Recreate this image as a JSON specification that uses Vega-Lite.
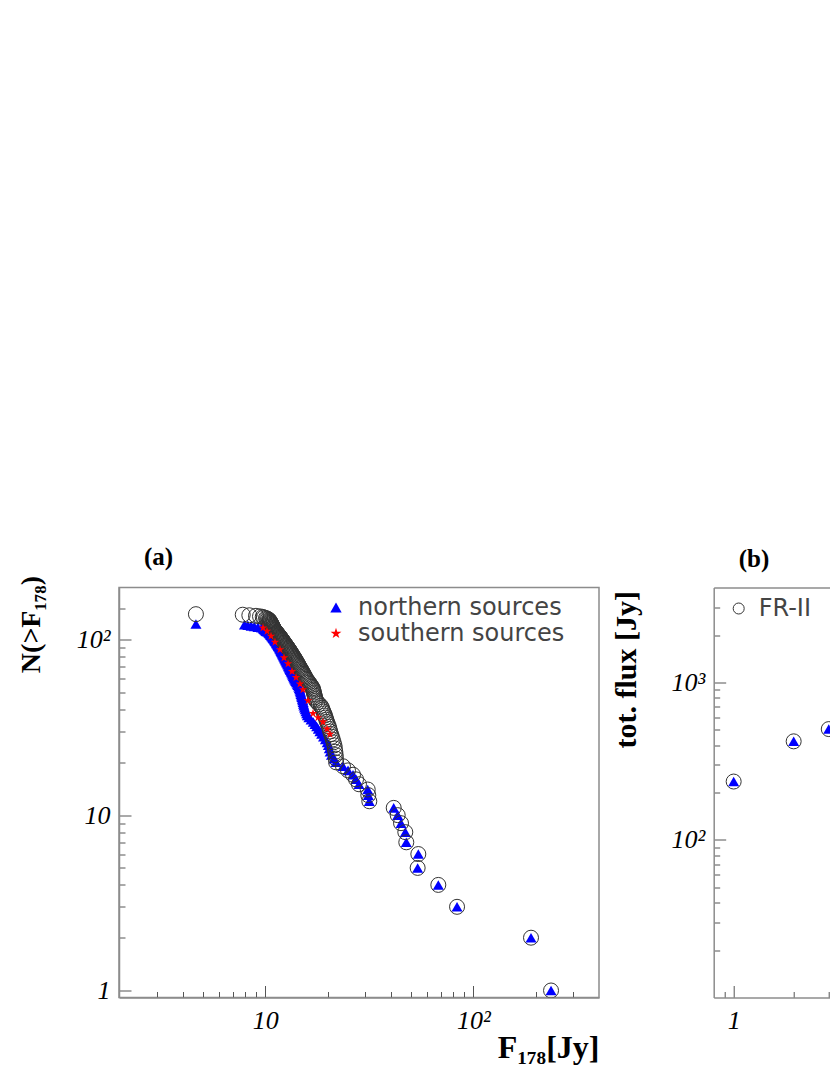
{
  "$schema": "https://vega.github.io/schema/vega-lite/v6.json",
  "background": "white",
  "padding": {"left": 16, "top": 543.5, "right": 0, "bottom": 0},
  "bounds": "flush",
  "spacing": 114.7,
  "config": {
    "view": {"stroke": "#8c8c8c", "strokeWidth": 1.5},
    "axis": {"grid": false, "domainColor": "#8c8c8c", "domainWidth": 1.5, "tickColor": "#555555", "tickWidth": 1, "labelFont": "Liberation Serif", "labelFontStyle": "italic", "labelFontSize": 26, "labelColor": "#000000", "labelOverlap": false, "labelFlush": false, "titleFont": "Liberation Serif", "titleFontWeight": "bold", "titleColor": "#000000", "titleFontSize": 30}
  },
  "resolve": {"scale": {"color": "independent", "shape": "independent"}},
  "datasets": {
    "a": [
      {"series": "FR-II", "F": 4.64, "N": 140},
      {"series": "FR-II", "F": 7.79, "N": 139},
      {"series": "FR-II", "F": 8.38, "N": 138},
      {"series": "FR-II", "F": 9.02, "N": 137},
      {"series": "FR-II", "F": 9.43, "N": 136},
      {"series": "FR-II", "F": 9.72, "N": 135},
      {"series": "FR-II", "F": 9.86, "N": 134},
      {"series": "FR-II", "F": 10.08, "N": 133},
      {"series": "FR-II", "F": 10.19, "N": 132},
      {"series": "FR-II", "F": 10.30, "N": 131},
      {"series": "FR-II", "F": 10.42, "N": 130},
      {"series": "FR-II", "F": 10.46, "N": 129},
      {"series": "FR-II", "F": 10.50, "N": 128},
      {"series": "FR-II", "F": 10.54, "N": 127},
      {"series": "FR-II", "F": 10.58, "N": 126},
      {"series": "FR-II", "F": 10.62, "N": 125},
      {"series": "FR-II", "F": 10.66, "N": 124},
      {"series": "FR-II", "F": 10.70, "N": 123},
      {"series": "FR-II", "F": 10.74, "N": 122},
      {"series": "FR-II", "F": 10.78, "N": 121},
      {"series": "FR-II", "F": 10.81, "N": 120},
      {"series": "FR-II", "F": 10.85, "N": 119},
      {"series": "FR-II", "F": 10.89, "N": 118},
      {"series": "FR-II", "F": 10.93, "N": 117},
      {"series": "FR-II", "F": 10.97, "N": 116},
      {"series": "FR-II", "F": 11.01, "N": 115},
      {"series": "FR-II", "F": 11.05, "N": 114},
      {"series": "FR-II", "F": 11.12, "N": 113},
      {"series": "FR-II", "F": 11.19, "N": 112},
      {"series": "FR-II", "F": 11.27, "N": 111},
      {"series": "FR-II", "F": 11.34, "N": 110},
      {"series": "FR-II", "F": 11.41, "N": 109},
      {"series": "FR-II", "F": 11.48, "N": 108},
      {"series": "FR-II", "F": 11.55, "N": 107},
      {"series": "FR-II", "F": 11.62, "N": 106},
      {"series": "FR-II", "F": 11.70, "N": 105},
      {"series": "FR-II", "F": 11.77, "N": 104},
      {"series": "FR-II", "F": 11.84, "N": 103},
      {"series": "FR-II", "F": 11.91, "N": 102},
      {"series": "FR-II", "F": 11.98, "N": 101},
      {"series": "FR-II", "F": 12.05, "N": 100},
      {"series": "FR-II", "F": 12.13, "N": 99},
      {"series": "FR-II", "F": 12.20, "N": 98},
      {"series": "FR-II", "F": 12.27, "N": 97},
      {"series": "FR-II", "F": 12.34, "N": 96},
      {"series": "FR-II", "F": 12.42, "N": 95},
      {"series": "FR-II", "F": 12.51, "N": 94},
      {"series": "FR-II", "F": 12.59, "N": 93},
      {"series": "FR-II", "F": 12.67, "N": 92},
      {"series": "FR-II", "F": 12.75, "N": 91},
      {"series": "FR-II", "F": 12.84, "N": 90},
      {"series": "FR-II", "F": 12.92, "N": 89},
      {"series": "FR-II", "F": 13.00, "N": 88},
      {"series": "FR-II", "F": 13.09, "N": 87},
      {"series": "FR-II", "F": 13.17, "N": 86},
      {"series": "FR-II", "F": 13.25, "N": 85},
      {"series": "FR-II", "F": 13.33, "N": 84},
      {"series": "FR-II", "F": 13.42, "N": 83},
      {"series": "FR-II", "F": 13.50, "N": 82},
      {"series": "FR-II", "F": 13.59, "N": 81},
      {"series": "FR-II", "F": 13.68, "N": 80},
      {"series": "FR-II", "F": 13.78, "N": 79},
      {"series": "FR-II", "F": 13.87, "N": 78},
      {"series": "FR-II", "F": 13.96, "N": 77},
      {"series": "FR-II", "F": 14.05, "N": 76},
      {"series": "FR-II", "F": 14.14, "N": 75},
      {"series": "FR-II", "F": 14.23, "N": 74},
      {"series": "FR-II", "F": 14.33, "N": 73},
      {"series": "FR-II", "F": 14.42, "N": 72},
      {"series": "FR-II", "F": 14.51, "N": 71},
      {"series": "FR-II", "F": 14.60, "N": 70},
      {"series": "FR-II", "F": 14.71, "N": 69},
      {"series": "FR-II", "F": 14.82, "N": 68},
      {"series": "FR-II", "F": 14.93, "N": 67},
      {"series": "FR-II", "F": 15.04, "N": 66},
      {"series": "FR-II", "F": 15.15, "N": 65},
      {"series": "FR-II", "F": 15.26, "N": 64},
      {"series": "FR-II", "F": 15.37, "N": 63},
      {"series": "FR-II", "F": 15.48, "N": 62},
      {"series": "FR-II", "F": 15.59, "N": 61},
      {"series": "FR-II", "F": 15.70, "N": 60},
      {"series": "FR-II", "F": 15.87, "N": 59},
      {"series": "FR-II", "F": 16.04, "N": 58},
      {"series": "FR-II", "F": 16.21, "N": 57},
      {"series": "FR-II", "F": 16.39, "N": 56},
      {"series": "FR-II", "F": 16.56, "N": 55},
      {"series": "FR-II", "F": 16.73, "N": 54},
      {"series": "FR-II", "F": 16.90, "N": 53},
      {"series": "FR-II", "F": 16.98, "N": 52},
      {"series": "FR-II", "F": 17.05, "N": 51},
      {"series": "FR-II", "F": 17.13, "N": 50},
      {"series": "FR-II", "F": 17.20, "N": 49},
      {"series": "FR-II", "F": 17.28, "N": 48},
      {"series": "FR-II", "F": 17.35, "N": 47},
      {"series": "FR-II", "F": 17.43, "N": 46},
      {"series": "FR-II", "F": 17.50, "N": 45},
      {"series": "FR-II", "F": 17.80, "N": 44},
      {"series": "FR-II", "F": 18.10, "N": 43},
      {"series": "FR-II", "F": 18.50, "N": 42},
      {"series": "FR-II", "F": 18.70, "N": 41},
      {"series": "FR-II", "F": 18.85, "N": 40},
      {"series": "FR-II", "F": 19.00, "N": 39},
      {"series": "FR-II", "F": 19.20, "N": 38},
      {"series": "FR-II", "F": 19.35, "N": 37},
      {"series": "FR-II", "F": 19.50, "N": 36},
      {"series": "FR-II", "F": 19.65, "N": 35},
      {"series": "FR-II", "F": 19.80, "N": 34},
      {"series": "FR-II", "F": 20.00, "N": 33},
      {"series": "FR-II", "F": 20.20, "N": 32},
      {"series": "FR-II", "F": 20.35, "N": 31},
      {"series": "FR-II", "F": 20.50, "N": 30},
      {"series": "FR-II", "F": 20.70, "N": 29},
      {"series": "FR-II", "F": 20.90, "N": 28},
      {"series": "FR-II", "F": 21.10, "N": 27},
      {"series": "FR-II", "F": 21.30, "N": 26},
      {"series": "FR-II", "F": 21.50, "N": 25},
      {"series": "FR-II", "F": 21.60, "N": 24},
      {"series": "FR-II", "F": 21.70, "N": 23},
      {"series": "FR-II", "F": 21.80, "N": 22},
      {"series": "FR-II", "F": 21.85, "N": 21},
      {"series": "FR-II", "F": 21.90, "N": 20},
      {"series": "FR-II", "F": 23.63, "N": 19},
      {"series": "FR-II", "F": 24.98, "N": 18},
      {"series": "FR-II", "F": 26.40, "N": 17},
      {"series": "FR-II", "F": 27.30, "N": 16},
      {"series": "FR-II", "F": 28.20, "N": 15},
      {"series": "FR-II", "F": 31.07, "N": 14},
      {"series": "FR-II", "F": 31.27, "N": 13},
      {"series": "FR-II", "F": 31.62, "N": 12},
      {"series": "FR-II", "F": 41.43, "N": 11},
      {"series": "FR-II", "F": 43.30, "N": 10},
      {"series": "FR-II", "F": 44.92, "N": 9},
      {"series": "FR-II", "F": 47.10, "N": 8},
      {"series": "FR-II", "F": 47.62, "N": 7},
      {"series": "FR-II", "F": 54.40, "N": 6},
      {"series": "FR-II", "F": 54.00, "N": 5},
      {"series": "FR-II", "F": 67.88, "N": 4},
      {"series": "FR-II", "F": 83.51, "N": 3},
      {"series": "FR-II", "F": 189.4, "N": 2},
      {"series": "FR-II", "F": 236.4, "N": 1},
      {"series": "northern sources", "F": 4.64, "N": 123},
      {"series": "northern sources", "F": 7.94, "N": 122},
      {"series": "northern sources", "F": 8.24, "N": 121},
      {"series": "northern sources", "F": 8.55, "N": 120},
      {"series": "northern sources", "F": 8.85, "N": 119},
      {"series": "northern sources", "F": 9.22, "N": 118},
      {"series": "northern sources", "F": 9.60, "N": 117},
      {"series": "northern sources", "F": 9.78, "N": 116},
      {"series": "northern sources", "F": 9.85, "N": 115},
      {"series": "northern sources", "F": 9.93, "N": 114},
      {"series": "northern sources", "F": 10.00, "N": 113},
      {"series": "northern sources", "F": 10.10, "N": 112},
      {"series": "northern sources", "F": 10.20, "N": 111},
      {"series": "northern sources", "F": 10.35, "N": 110},
      {"series": "northern sources", "F": 10.45, "N": 109},
      {"series": "northern sources", "F": 10.52, "N": 108},
      {"series": "northern sources", "F": 10.58, "N": 107},
      {"series": "northern sources", "F": 10.65, "N": 106},
      {"series": "northern sources", "F": 10.72, "N": 105},
      {"series": "northern sources", "F": 10.78, "N": 104},
      {"series": "northern sources", "F": 10.85, "N": 103},
      {"series": "northern sources", "F": 10.92, "N": 102},
      {"series": "northern sources", "F": 10.98, "N": 101},
      {"series": "northern sources", "F": 11.05, "N": 100},
      {"series": "northern sources", "F": 11.11, "N": 99},
      {"series": "northern sources", "F": 11.18, "N": 98},
      {"series": "northern sources", "F": 11.24, "N": 97},
      {"series": "northern sources", "F": 11.30, "N": 96},
      {"series": "northern sources", "F": 11.36, "N": 95},
      {"series": "northern sources", "F": 11.43, "N": 94},
      {"series": "northern sources", "F": 11.49, "N": 93},
      {"series": "northern sources", "F": 11.55, "N": 92},
      {"series": "northern sources", "F": 11.62, "N": 91},
      {"series": "northern sources", "F": 11.68, "N": 90},
      {"series": "northern sources", "F": 11.74, "N": 89},
      {"series": "northern sources", "F": 11.80, "N": 88},
      {"series": "northern sources", "F": 11.86, "N": 87},
      {"series": "northern sources", "F": 11.92, "N": 86},
      {"series": "northern sources", "F": 11.98, "N": 85},
      {"series": "northern sources", "F": 12.04, "N": 84},
      {"series": "northern sources", "F": 12.10, "N": 83},
      {"series": "northern sources", "F": 12.16, "N": 82},
      {"series": "northern sources", "F": 12.22, "N": 81},
      {"series": "northern sources", "F": 12.28, "N": 80},
      {"series": "northern sources", "F": 12.34, "N": 79},
      {"series": "northern sources", "F": 12.41, "N": 78},
      {"series": "northern sources", "F": 12.48, "N": 77},
      {"series": "northern sources", "F": 12.55, "N": 76},
      {"series": "northern sources", "F": 12.62, "N": 75},
      {"series": "northern sources", "F": 12.69, "N": 74},
      {"series": "northern sources", "F": 12.77, "N": 73},
      {"series": "northern sources", "F": 12.84, "N": 72},
      {"series": "northern sources", "F": 12.91, "N": 71},
      {"series": "northern sources", "F": 12.98, "N": 70},
      {"series": "northern sources", "F": 13.05, "N": 69},
      {"series": "northern sources", "F": 13.13, "N": 68},
      {"series": "northern sources", "F": 13.21, "N": 67},
      {"series": "northern sources", "F": 13.30, "N": 66},
      {"series": "northern sources", "F": 13.38, "N": 65},
      {"series": "northern sources", "F": 13.46, "N": 64},
      {"series": "northern sources", "F": 13.54, "N": 63},
      {"series": "northern sources", "F": 13.63, "N": 62},
      {"series": "northern sources", "F": 13.71, "N": 61},
      {"series": "northern sources", "F": 13.79, "N": 60},
      {"series": "northern sources", "F": 13.90, "N": 59},
      {"series": "northern sources", "F": 14.01, "N": 58},
      {"series": "northern sources", "F": 14.12, "N": 57},
      {"series": "northern sources", "F": 14.24, "N": 56},
      {"series": "northern sources", "F": 14.35, "N": 55},
      {"series": "northern sources", "F": 14.46, "N": 54},
      {"series": "northern sources", "F": 14.57, "N": 53},
      {"series": "northern sources", "F": 14.64, "N": 52},
      {"series": "northern sources", "F": 14.71, "N": 51},
      {"series": "northern sources", "F": 14.78, "N": 50},
      {"series": "northern sources", "F": 14.85, "N": 49},
      {"series": "northern sources", "F": 14.92, "N": 48},
      {"series": "northern sources", "F": 14.99, "N": 47},
      {"series": "northern sources", "F": 15.06, "N": 46},
      {"series": "northern sources", "F": 15.13, "N": 45},
      {"series": "northern sources", "F": 15.20, "N": 44},
      {"series": "northern sources", "F": 15.26, "N": 43},
      {"series": "northern sources", "F": 15.33, "N": 42},
      {"series": "northern sources", "F": 15.43, "N": 41},
      {"series": "northern sources", "F": 15.55, "N": 40},
      {"series": "northern sources", "F": 15.68, "N": 39},
      {"series": "northern sources", "F": 15.80, "N": 38},
      {"series": "northern sources", "F": 15.93, "N": 37},
      {"series": "northern sources", "F": 16.20, "N": 36},
      {"series": "northern sources", "F": 16.60, "N": 35},
      {"series": "northern sources", "F": 17.00, "N": 34},
      {"series": "northern sources", "F": 17.33, "N": 33},
      {"series": "northern sources", "F": 17.66, "N": 32},
      {"series": "northern sources", "F": 17.98, "N": 31},
      {"series": "northern sources", "F": 18.30, "N": 30},
      {"series": "northern sources", "F": 18.65, "N": 29},
      {"series": "northern sources", "F": 19.05, "N": 28},
      {"series": "northern sources", "F": 19.45, "N": 27},
      {"series": "northern sources", "F": 19.85, "N": 26},
      {"series": "northern sources", "F": 20.10, "N": 25},
      {"series": "northern sources", "F": 20.30, "N": 24},
      {"series": "northern sources", "F": 20.50, "N": 23},
      {"series": "northern sources", "F": 20.80, "N": 22},
      {"series": "northern sources", "F": 21.40, "N": 21},
      {"series": "northern sources", "F": 21.90, "N": 20},
      {"series": "northern sources", "F": 23.63, "N": 19},
      {"series": "northern sources", "F": 24.98, "N": 18},
      {"series": "northern sources", "F": 26.40, "N": 17},
      {"series": "northern sources", "F": 27.30, "N": 16},
      {"series": "northern sources", "F": 28.20, "N": 15},
      {"series": "northern sources", "F": 31.07, "N": 14},
      {"series": "northern sources", "F": 31.27, "N": 13},
      {"series": "northern sources", "F": 31.62, "N": 12},
      {"series": "northern sources", "F": 41.43, "N": 11},
      {"series": "northern sources", "F": 43.30, "N": 10},
      {"series": "northern sources", "F": 44.92, "N": 9},
      {"series": "northern sources", "F": 47.10, "N": 8},
      {"series": "northern sources", "F": 47.62, "N": 7},
      {"series": "northern sources", "F": 54.40, "N": 6},
      {"series": "northern sources", "F": 54.00, "N": 5},
      {"series": "northern sources", "F": 67.88, "N": 4},
      {"series": "northern sources", "F": 83.51, "N": 3},
      {"series": "northern sources", "F": 189.4, "N": 2},
      {"series": "northern sources", "F": 236.4, "N": 1},
      {"series": "southern sources", "F": 9.75, "N": 117},
      {"series": "southern sources", "F": 10.19, "N": 112},
      {"series": "southern sources", "F": 10.65, "N": 105},
      {"series": "southern sources", "F": 11.13, "N": 97},
      {"series": "southern sources", "F": 11.77, "N": 88},
      {"series": "southern sources", "F": 12.30, "N": 79},
      {"series": "southern sources", "F": 12.86, "N": 73},
      {"series": "southern sources", "F": 13.44, "N": 66},
      {"series": "southern sources", "F": 14.05, "N": 61},
      {"series": "southern sources", "F": 14.68, "N": 56},
      {"series": "southern sources", "F": 15.18, "N": 52},
      {"series": "southern sources", "F": 16.05, "N": 45},
      {"series": "southern sources", "F": 16.96, "N": 38},
      {"series": "southern sources", "F": 17.92, "N": 36},
      {"series": "southern sources", "F": 18.94, "N": 34},
      {"series": "southern sources", "F": 19.80, "N": 31},
      {"series": "southern sources", "F": 20.46, "N": 29}
    ],
    "b": [
      {"series": "FR-II", "n": 1, "flux": 235},
      {"series": "FR-II", "n": 2, "flux": 423},
      {"series": "FR-II", "n": 3, "flux": 506},
      {"series": "northern sources", "n": 1, "flux": 235},
      {"series": "northern sources", "n": 2, "flux": 423},
      {"series": "northern sources", "n": 3, "flux": 506}
    ]
  },
  "hconcat": [
    {
      "width": 480,
      "height": 410,
      "title": {"text": "(a)", "anchor": "start", "frame": "group", "dx": 25, "offset": 6, "font": "Liberation Serif", "fontWeight": "bold", "fontSize": 25, "color": "#000000"},
      "data": {"name": "a"},
      "encoding": {
        "x": {"field": "F", "type": "quantitative", "scale": {"type": "log", "domain": [1.98, 402]},
          "axis": {"values": [3, 4, 5, 6, 7, 8, 9, 10, 20, 30, 40, 50, 60, 70, 80, 90, 100, 200, 300],
            "labelExpr": "datum.value == 10 ? '10' : datum.value == 100 ? '10²' : ''",
            "tickSize": {"condition": {"test": "datum.value == 10 || datum.value == 100", "value": -12}, "value": -6},
            "labelPadding": 22,
            "title": "F₁₇₈[Jy]", "titleX": 480, "titleY": 60, "titleAlign": "right", "titleBaseline": "alphabetic", "titleAngle": 0, "titleFontSize": 32}},
        "y": {"field": "N", "type": "quantitative", "scale": {"type": "log", "domain": [0.912, 198.7]},
          "axis": {"values": [1, 2, 3, 4, 5, 6, 7, 8, 9, 10, 20, 30, 40, 50, 60, 70, 80, 90, 100, 150],
            "labelExpr": "datum.value == 1 ? '1' : datum.value == 10 ? '10' : datum.value == 100 ? '10²' : ''",
            "tickSize": {"condition": {"test": "datum.value == 1 || datum.value == 10 || datum.value == 100", "value": -12}, "value": -6},
            "labelPadding": 21,
            "title": "N(>F₁₇₈)", "titleX": -102, "titleY": -12, "titleAngle": 270, "titleAlign": "right", "titleBaseline": "top", "titleFontSize": 28}}
      },
      "layer": [
        {
          "transform": [{"filter": "datum.series == 'northern sources'"}],
          "mark": {"type": "point", "filled": true, "size": 121, "opacity": 1, "strokeWidth": 0, "clip": true},
          "encoding": {
            "shape": {"field": "series", "type": "nominal", "scale": {"domain": ["northern sources", "southern sources"], "range": ["triangle-up", "M0,-1L0.2245,-0.309L0.9511,-0.309L0.3633,0.118L0.5878,0.809L0,0.382L-0.5878,0.809L-0.3633,0.118L-0.9511,-0.309L-0.2245,-0.309Z"]},
              "legend": {"title": null, "orient": "none", "legendX": 205, "legendY": 8, "padding": 0, "symbolSize": 130, "symbolStrokeWidth": 0, "labelOffset": 10, "labelLimit": 400, "labelFont": "DejaVu Sans", "labelFontSize": 24, "labelColor": "#444444", "rowPadding": 2}},
            "color": {"field": "series", "type": "nominal", "scale": {"domain": ["northern sources", "southern sources"], "range": ["#0000ff", "#ff0000"]},
              "legend": {"title": null, "orient": "none", "legendX": 205, "legendY": 8, "padding": 0, "symbolSize": 130, "symbolStrokeWidth": 0, "labelOffset": 10, "labelLimit": 400, "labelFont": "DejaVu Sans", "labelFontSize": 24, "labelColor": "#444444", "rowPadding": 2}}
          }
        },
        {
          "transform": [{"filter": "datum.series == 'FR-II'"}],
          "mark": {"type": "point", "shape": "circle", "filled": false, "size": 225, "opacity": 1, "stroke": "#333333", "strokeWidth": 1, "clip": true}
        },
        {
          "transform": [{"filter": "datum.series == 'southern sources'"}],
          "mark": {"type": "point", "filled": true, "size": 81, "opacity": 1, "strokeWidth": 0, "clip": true},
          "encoding": {
            "shape": {"field": "series", "type": "nominal", "scale": {"domain": ["northern sources", "southern sources"], "range": ["triangle-up", "M0,-1L0.2245,-0.309L0.9511,-0.309L0.3633,0.118L0.5878,0.809L0,0.382L-0.5878,0.809L-0.3633,0.118L-0.9511,-0.309L-0.2245,-0.309Z"]},
              "legend": {"title": null, "orient": "none", "legendX": 205, "legendY": 8, "padding": 0, "symbolSize": 130, "symbolStrokeWidth": 0, "labelOffset": 10, "labelLimit": 400, "labelFont": "DejaVu Sans", "labelFontSize": 24, "labelColor": "#444444", "rowPadding": 2}},
            "color": {"field": "series", "type": "nominal", "scale": {"domain": ["northern sources", "southern sources"], "range": ["#0000ff", "#ff0000"]},
              "legend": {"title": null, "orient": "none", "legendX": 205, "legendY": 8, "padding": 0, "symbolSize": 130, "symbolStrokeWidth": 0, "labelOffset": 10, "labelLimit": 400, "labelFont": "DejaVu Sans", "labelFontSize": 24, "labelColor": "#444444", "rowPadding": 2}}
          }
        }
      ]
    },
    {
      "width": 116.5,
      "height": 410,
      "view": {"stroke": null},
      "title": {"text": "(b)", "anchor": "start", "frame": "group", "dx": 25, "offset": 16, "font": "Liberation Serif", "fontWeight": "bold", "fontSize": 25, "color": "#000000"},
      "data": {"name": "b"},
      "encoding": {
        "y": {"field": "flux", "type": "quantitative", "scale": {"type": "log", "domain": [10, 4009]},
          "axis": {"values": [20, 30, 40, 50, 60, 70, 80, 90, 100, 200, 300, 400, 500, 600, 700, 800, 900, 1000, 2000, 3000],
            "labelExpr": "datum.value == 100 ? '10²' : datum.value == 1000 ? '10³' : ''",
            "tickSize": {"condition": {"test": "datum.value == 100 || datum.value == 1000", "value": -12}, "value": -6},
            "labelPadding": 21,
            "title": "tot. flux [Jy]", "titleX": -102, "titleY": 3, "titleAngle": 270, "titleAlign": "right", "titleBaseline": "top", "titleFontSize": 30}}
      },
      "layer": [
        {
          "transform": [{"filter": "datum.series == 'northern sources'"}],
          "mark": {"type": "point", "shape": "triangle-up", "filled": true, "size": 121, "opacity": 1, "color": "#0000ff", "strokeWidth": 0, "clip": true},
          "encoding": {
            "x": {"field": "n", "type": "quantitative", "scale": {"type": "log", "domain": [0.794, 3.05]},
              "axis": {"orient": "top", "labels": false, "ticks": false, "title": null}}
          }
        },
        {
          "transform": [{"filter": "datum.series == 'FR-II'"}],
          "mark": {"type": "point", "filled": false, "size": 225, "opacity": 1, "stroke": "#333333", "strokeWidth": 1, "clip": true},
          "encoding": {
            "x": {"field": "n", "type": "quantitative", "scale": {"type": "log", "domain": [0.794, 3.05]},
              "axis": {"orient": "bottom", "values": [0.9, 1, 2, 3],
                "labelExpr": "datum.value == 1 ? '1' : ''",
                "tickSize": {"condition": {"test": "datum.value == 1", "value": -12}, "value": -6},
                "labelPadding": 22, "title": null}},
            "shape": {"field": "series", "type": "nominal", "scale": {"domain": ["FR-II"], "range": ["circle"]},
              "legend": {"title": null, "orient": "none", "legendX": 13, "legendY": 9, "padding": 0, "symbolSize": 121, "symbolFillColor": "transparent", "symbolStrokeColor": "#333333", "symbolStrokeWidth": 1, "labelOffset": 8, "labelFont": "DejaVu Sans", "labelFontSize": 24, "labelColor": "#444444"}}
          }
        }
      ]
    }
  ]
}
